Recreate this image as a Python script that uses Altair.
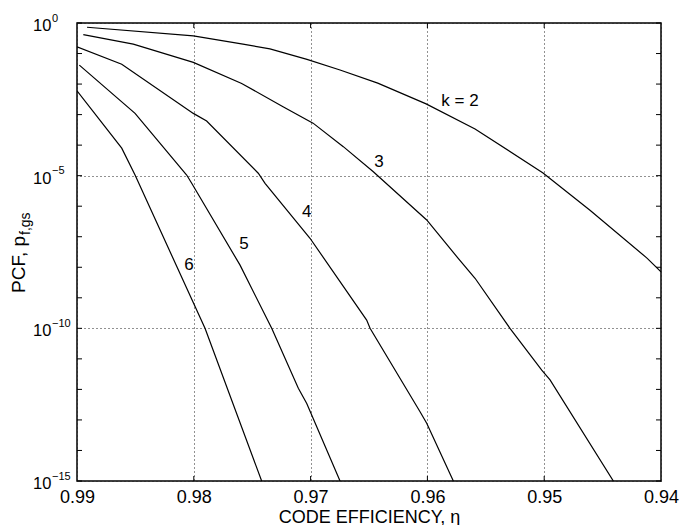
import altair as alt
import pandas as pd

# ---- data (x = code efficiency, e = log10 of PCF) ----
x_k2 = [0.98914, 0.98004, 0.97579, 0.97348, 0.97031, 0.96748, 0.96425, 0.96011, 0.95592, 0.95010, 0.94608, 0.94120, 0.94000]
e_k2 = [-0.14, -0.42, -0.69, -0.85, -1.19, -1.54, -1.97, -2.65, -3.47, -4.91, -6.13, -7.70, -8.15]

x_k3 = [0.98946, 0.98518, 0.98004, 0.97590, 0.97236, 0.96979, 0.96720, 0.96463, 0.96006, 0.95738, 0.95592, 0.95293, 0.95021, 0.94950, 0.94408]
e_k3 = [-0.38, -0.69, -1.29, -1.98, -2.74, -3.28, -4.05, -4.87, -6.45, -7.70, -8.36, -10.0, -11.37, -11.69, -15.0]

x_k4 = [0.99, 0.98617, 0.98004, 0.97890, 0.97448, 0.97390, 0.97005, 0.96520, 0.96491, 0.96063, 0.96006, 0.95778]
e_k4 = [-0.78, -1.35, -2.96, -3.21, -4.92, -5.25, -7.05, -9.73, -10.0, -12.73, -13.11, -15.0]

x_k5 = [0.98980, 0.98503, 0.98061, 0.98018, 0.97604, 0.97333, 0.97105, 0.97033, 0.96748]
e_k5 = [-1.38, -2.96, -4.98, -5.25, -7.93, -10.0, -11.96, -12.46, -15.0]

x_k6 = [0.99, 0.98617, 0.98503, 0.97904, 0.97419]
e_k6 = [-2.22, -4.10, -4.98, -10.0, -15.0]

label_text = ["k = 2", "3", "4", "5", "6"]
label_x = [0.95721, 0.96414, 0.97033, 0.97570, 0.98041]
label_e = [-2.56, -4.55, -6.20, -7.24, -7.93]

x_ticks = [0.99, 0.98, 0.97, 0.96, 0.95, 0.94]
y_major_exp = [0, -5, -10, -15]
y_decade_exp = list(range(0, -16, -1))

W, H = 584, 458
FONT = "Liberation Sans"

rows = []
for k, xs, es in [(2, x_k2, e_k2), (3, x_k3, e_k3), (4, x_k4, e_k4), (5, x_k5, e_k5), (6, x_k6, e_k6)]:
    for i, (xv, ev) in enumerate(zip(xs, es)):
        rows.append({"k": k, "i": i, "eta": xv, "pcf": 10.0 ** ev})
curves = pd.DataFrame(rows)

labels = pd.DataFrame({"t": label_text, "eta": label_x, "pcf": [10.0 ** e for e in label_e]})
major = pd.DataFrame({"pcf": [10.0 ** e for e in y_major_exp],
                      "exp": ["\u2212" + str(-e) if e < 0 else str(e) for e in y_major_exp]})
decades = pd.DataFrame({"pcf": [10.0 ** e for e in y_decade_exp]})
xt = pd.DataFrame({"eta": x_ticks[1:-1]})

xscale = alt.Scale(domain=[0.94, 0.99], reverse=True, nice=False, zero=False)
yscale = alt.Scale(type="log", domain=[1e-15, 1], nice=False)

xaxis = alt.Axis(values=x_ticks, format=".2f", grid=True, gridDash=[1, 3], gridColor="#222",
                 gridWidth=1, ticks=False, tickSize=0, domain=False, labelFontSize=18,
                 labelPadding=7, labelFont=FONT, labelColor="black", labelFlush=False,
                 labelOverlap=False, labelBound=False,
                 title="CODE EFFICIENCY, \u03b7", titleFont=FONT, titleFontSize=18,
                 titleFontWeight="normal", titleColor="black", titleBaseline="alphabetic", titleY=41)
yaxis = alt.Axis(values=[10.0 ** e for e in y_major_exp], grid=True, gridDash=[1, 3], gridColor="#222",
                 gridWidth=1, ticks=False, tickSize=0, domain=False, labels=False, title=None)

X = alt.X("eta:Q", scale=xscale, axis=xaxis)
Y = alt.Y("pcf:Q", scale=yscale, axis=yaxis)

lines = alt.Chart(curves).mark_line(color="black", strokeWidth=1.2, clip=True).encode(
    x=X, y=Y, detail="k:N", order="i:Q")

curve_labels = alt.Chart(labels).mark_text(font=FONT, fontSize=17, color="black",
                                           align="center", baseline="middle").encode(
    x=alt.X("eta:Q", scale=xscale), y=alt.Y("pcf:Q", scale=yscale), text="t:N")

# inward ticks (left/right decades, bottom/top majors)
tl = alt.Chart(decades).mark_rule(color="black", strokeWidth=1).encode(
    y=alt.Y("pcf:Q", scale=yscale), x=alt.value(0), x2=alt.value(5))
tr = alt.Chart(decades).mark_rule(color="black", strokeWidth=1).encode(
    y=alt.Y("pcf:Q", scale=yscale), x=alt.value(W - 5), x2=alt.value(W))
tb = alt.Chart(xt).mark_rule(color="black", strokeWidth=1).encode(
    x=alt.X("eta:Q", scale=xscale), y=alt.value(H - 5), y2=alt.value(H))
tt = alt.Chart(xt).mark_rule(color="black", strokeWidth=1).encode(
    x=alt.X("eta:Q", scale=xscale), y=alt.value(0), y2=alt.value(5))

# y tick labels: "10" with superscript exponent
ten = alt.Chart(major).mark_text(font=FONT, fontSize=16.5, color="black", align="left",
                                 baseline="alphabetic", dy=8).encode(
    y=alt.Y("pcf:Q", scale=yscale), x=alt.value(-44), text=alt.value("10"))
sup = alt.Chart(major).mark_text(font=FONT, fontSize=11, color="black", align="left",
                                 baseline="alphabetic", dy=-1.5).encode(
    y=alt.Y("pcf:Q", scale=yscale), x=alt.value(-25), text="exp:N")

# y title with subscript
ytitle = alt.Chart(pd.DataFrame({"a": [0]})).mark_text(
    font=FONT, fontSize=19, color="black", angle=270, align="left", baseline="alphabetic").encode(
    x=alt.value(-52), y=alt.value(270), text=alt.value("PCF, p"))
ysub = alt.Chart(pd.DataFrame({"a": [0]})).mark_text(
    font=FONT, fontSize=14, color="black", angle=270, align="left", baseline="alphabetic").encode(
    x=alt.value(-47), y=alt.value(212), text=alt.value("f,gs"))

chart = alt.layer(lines, curve_labels, tl, tr, tb, tt, ten, sup, ytitle, ysub).properties(
    width=W, height=H,
    autosize=alt.AutoSizeParams(type="none"),
    padding={"left": 77, "top": 23, "right": 20, "bottom": 44},
    background="white",
).configure_view(stroke="black", strokeWidth=1.5).configure_axis(labelFont=FONT, titleFont=FONT)

chart.save("out.html", embed_options={"renderer": "svg", "actions": False})
